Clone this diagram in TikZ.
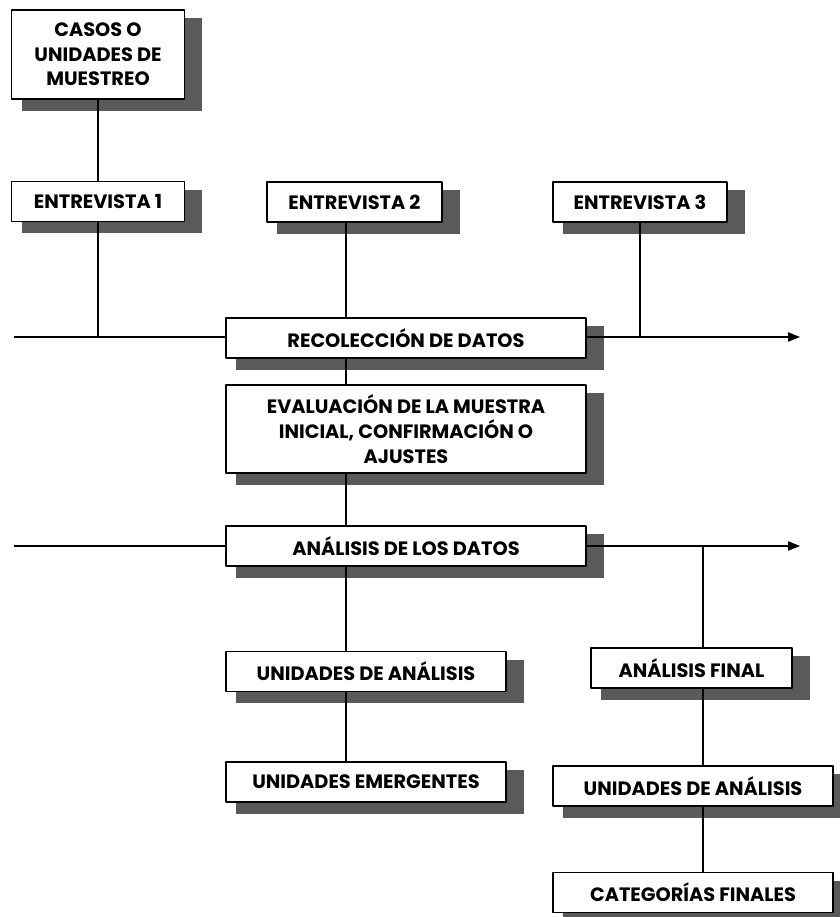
\documentclass[tikz,border=0pt]{standalone}
\usepackage{fontspec}
\setmainfont{Poppins}
\usetikzlibrary{arrows.meta,calc}
\pgfdeclarelayer{bg}
\pgfdeclarelayer{lines}
\pgfsetlayers{bg,lines,main}
\definecolor{shadowgray}{HTML}{5A5A5A}
\tikzset{
  caja/.style={draw, line width=1pt, fill=white, inner sep=0pt, align=center,
    font=\bfseries\fontsize{14.5}{18.5}\selectfont},
  ancho/.style={minimum width=#1*0.75pt},
  alto/.style={minimum height=#1*0.75pt},
  linea/.style={line width=0.8pt},
}

\begin{document}
\begin{tikzpicture}[x=0.75pt, y=-0.75pt, line join=round]
  \useasboundingbox (0,0) rectangle (839,917);
  % cajas
  \node[caja, ancho=173, alto=89] (casos) at (98,54.5) {CASOS O\\UNIDADES DE\\MUESTREO};
  \node[caja, ancho=173, alto=40] (ent1) at (98,201.5) {ENTREVISTA 1};
  \node[caja, ancho=175, alto=40] (ent2) at (354.5,202) {ENTREVISTA 2};
  \node[caja, ancho=174, alto=40] (ent3) at (640,202) {ENTREVISTA 3};
  \node[caja, ancho=360, alto=40] (recol) at (406,338) {RECOLECCIÓN DE DATOS};
  \node[caja, ancho=360, alto=88] (eval) at (406,429) {EVALUACIÓN DE LA MUESTRA\\INICIAL, CONFIRMACIÓN O\\AJUSTES};
  \node[caja, ancho=360, alto=40] (anadat) at (406,546) {ANÁLISIS DE LOS DATOS};
  \node[caja, ancho=280, alto=40] (unian) at (366,671.5) {UNIDADES DE ANÁLISIS};
  \node[caja, ancho=280, alto=40] (uniem) at (366,782) {UNIDADES EMERGENTES};
  \node[caja, ancho=201, alto=40] (anfin) at (691.5,668) {ANÁLISIS FINAL};
  \node[caja, ancho=280, alto=40] (unianf) at (693,786) {UNIDADES DE ANÁLISIS};
  \node[caja, ancho=280, alto=40] (catfin) at (693,892.5) {CATEGORÍAS FINALES};

  % sombras
  \begin{pgfonlayer}{bg}
    \foreach \n in {casos,ent1,ent2,ent3,recol,eval,anadat,unian,uniem,anfin,unianf,catfin}
      \fill[shadowgray] ($(\n.south west)+(11,11)$) rectangle ($(\n.north east)+(17,9)$);
  \end{pgfonlayer}

  % lineas
  \begin{pgfonlayer}{lines}
    \coordinate (spine) at (346,0);
    \coordinate (rspine) at (703,0);
    \coordinate (ini1) at (14,337);
    \coordinate (fin1) at (800,337);
    \coordinate (ini2) at (14,546);
    \coordinate (fin2) at (800,546);
    \draw[linea, -{Triangle[length=9pt,width=7pt]}] (ini1) -- (fin1);
    \draw[linea, -{Triangle[length=9pt,width=7pt]}] (ini2) -- (fin2);
    \draw[linea] (casos) -- (ent1);
    \draw[linea] (ent1.south) -- (ent1.south |- ini1);
    \draw[linea] (ent2.south -| spine) -- (recol.north -| spine);
    \draw[linea] (ent3.south) -- (ent3.south |- ini1);
    \draw[linea] (recol.south -| spine) -- (eval.north -| spine);
    \draw[linea] (eval.south -| spine) -- (anadat.north -| spine);
    \draw[linea] (anadat.south -| spine) -- (unian.north -| spine);
    \draw[linea] (unian.south -| spine) -- (uniem.north -| spine);
    \draw[linea] (ini2 -| rspine) -- (anfin.north -| rspine);
    \draw[linea] (anfin.south -| rspine) -- (unianf.north -| rspine);
    \draw[linea] (unianf.south -| rspine) -- (catfin.north -| rspine);
  \end{pgfonlayer}
\end{tikzpicture}
\end{document}
